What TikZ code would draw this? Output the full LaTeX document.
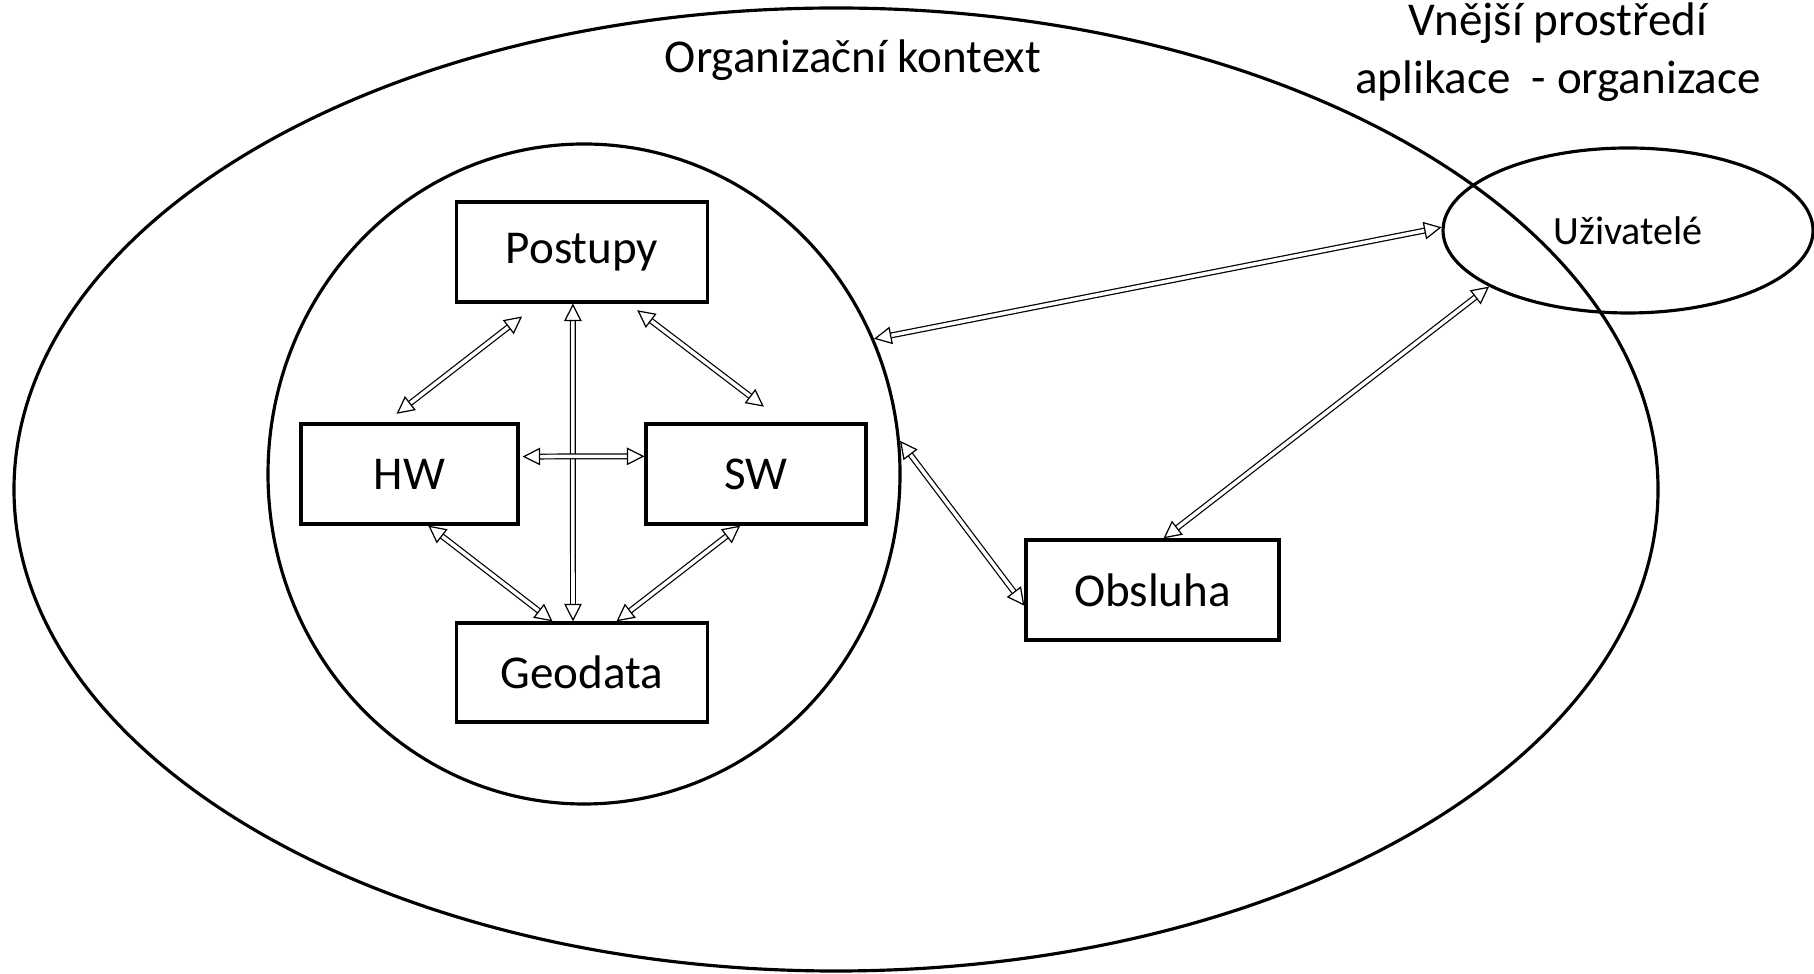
\documentclass[tikz,border=0pt]{standalone}
\usepackage{fontspec}
\setmainfont{Carlito}
\usetikzlibrary{shapes.geometric, arrows.meta}

\tikzset{
    box/.style={draw, line width=0.9pt, inner sep=0pt, minimum height=1.00cm, font=\fontsize{13.4}{16.4}\selectfont},
    oval/.style={draw, ellipse, line width=0.9pt, inner sep=0pt},
    dbl/.style={double, double distance=1pt, line width=0.35pt,
        {Triangle[open, length=5pt, width=5pt]}-{Triangle[open, length=5pt, width=5pt]}}
}

\begin{document}
\begin{tikzpicture}

        \useasboundingbox (0,0) rectangle (18.14,-9.74);

        \node[oval, minimum width=16.44cm, minimum height=9.63cm] (org) at (8.36,-4.895) {};
        \node[oval, minimum width=6.32cm, minimum height=6.60cm] (sys) at (5.84,-4.74) {};
        \node[oval, minimum width=3.70cm, minimum height=1.65cm, font=\fontsize{11.4}{14}\selectfont] (uziv) at (16.28,-2.305) {Uživatelé};

        \node[box, minimum width=2.51cm] (post) at (5.82,-2.52) {Postupy};
        \node[box, minimum width=2.17cm] (hw) at (4.095,-4.74) {HW};
        \node[box, minimum width=2.20cm] (sw) at (7.56,-4.74) {SW};
        \node[box, minimum width=2.51cm, minimum height=0.99cm] (geo) at (5.82,-6.725) {Geodata};
        \node[box, minimum width=2.53cm] (obs) at (11.525,-5.90) {Obsluha};

        \draw[dbl, shorten <=0.21cm, shorten >=0.14cm] (post.230) -- (hw.115);
        \draw[dbl, shorten <=0.11cm, shorten >=0.26cm] (post.312) -- (sw.61);
        \draw[dbl] (post.260) -- (geo.100);
        \draw[dbl, shorten <=0.03cm] (hw.9) -- (sw.171);
        \draw[dbl] (hw.290) -- (geo.120);
        \draw[dbl] (sw.253) -- (geo.56);

        \draw[dbl] (sys.25) -- (uziv.179);
        \draw[dbl] (sys.6) -- (obs.187);
        \draw[dbl] (obs.78) -- (uziv.202);

        \node[font=\fontsize{13.4}{16.4}\selectfont] (title) at (8.53,-0.60) {Organizační kontext};
        \node[font=\fontsize{13.4}{16.4}\selectfont, align=center] (env) at (15.58,-0.52) {Vnější prostředí\\aplikace~ - organizace};
    \end{tikzpicture}
\end{document}
